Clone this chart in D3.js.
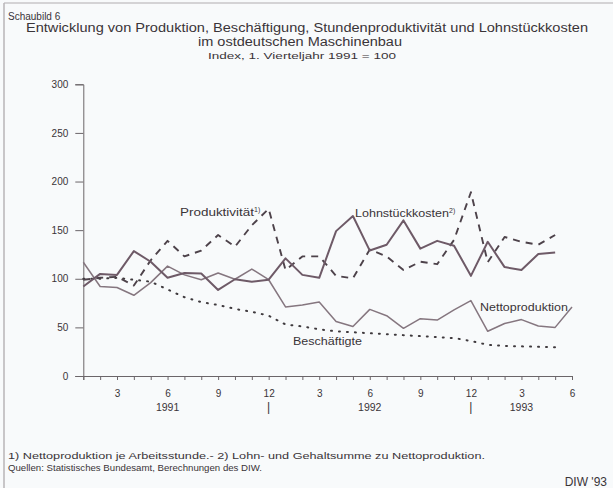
<!DOCTYPE html>
<html>
<head>
<meta charset="utf-8">
<script src="https://cdn.jsdelivr.net/npm/d3@7/dist/d3.min.js"></script>
<style>
  body { margin: 0; background: #f8fafb; }
  svg { display: block; font-family: "Liberation Sans", Arial, sans-serif; }
  text { fill: #3a3438; }
</style>
</head>
<body>
<div id="chart"></div>
<script>
// monthly values, Jan 1991 .. Jun 1993 (index, Q1 1991 = 100)
const months = [1, 2, 3, 4, 5, 6, 7, 8, 9, 10, 11, 12, 13, 14, 15, 16, 17, 18, 19, 20, 21, 22, 23, 24, 25, 26, 27, 28, 29, 30];
const nettoproduktion = [117, 92, 91, 83, 96, 113, 104, 99, 106, 99.5, 110, 99, 71, 73, 76, 56, 51, 68.5, 62, 49, 59, 57.5, 68, 77.5, 46, 54, 58, 51.5, 50, 71];
const lohnstueckkosten = [92, 105, 104, 128.5, 117.5, 101, 106, 105.5, 88.5, 99.5, 97, 99, 121, 104, 101, 149, 164.5, 129, 135, 160, 131, 139, 134, 103, 138, 112, 109, 125.5, 127];
const produktivitaet = [99, 101, 102, 93, 119, 139, 123, 129, 145, 133, 155, 172, 109, 123, 123, 103, 100.5, 130, 123, 109, 117.5, 115, 140, 189, 117, 143, 138, 135, 145];
const beschaeftigte = [100, 100, 101, 99, 97, 89, 81, 76, 73, 69, 66, 62, 53, 51, 48, 46, 45, 44, 43, 42, 41, 40, 39, 36, 32, 31, 30.5, 30, 29.5];

const yTicks = [0, 50, 100, 150, 200, 250, 300];
const monthLabels = {3: "3", 6: "6", 9: "9", 12: "12", 15: "3", 18: "6", 21: "9", 24: "12", 27: "3", 30: "6"};
const years = [["1991", 6], ["|", 12], ["1992", 18], ["|", 24], ["1993", 27]];

const W = 613, H = 488;
const svg = d3.select("#chart").append("svg")
    .attr("width", W)
    .attr("height", H);

// scanned frame edges
svg.append("line").attr("x1", 4).attr("x2", W).attr("y1", 3).attr("y2", 3)
    .style("stroke", "#c9c6c8").style("stroke-width", 1.5);
svg.append("line").attr("x1", 4).attr("x2", 4).attr("y1", 3).attr("y2", H)
    .style("stroke", "#b8b4b7").style("stroke-width", 1.5);

// titles
svg.append("text").attr("x", 8).attr("y", 20)
    .style("font-size", "10px").text("Schaubild 6");
svg.append("text").attr("x", 307).attr("y", 32).attr("text-anchor", "middle")
    .attr("textLength", 562).attr("lengthAdjust", "spacingAndGlyphs")
    .style("font-size", "12.5px").text("Entwicklung von Produktion, Beschäftigung, Stundenproduktivität und Lohnstückkosten");
svg.append("text").attr("x", 300).attr("y", 46).attr("text-anchor", "middle")
    .attr("textLength", 204).attr("lengthAdjust", "spacingAndGlyphs")
    .style("font-size", "12.5px").text("im ostdeutschen Maschinenbau");
svg.append("text").attr("x", 302).attr("y", 59).attr("text-anchor", "middle")
    .attr("textLength", 188).attr("lengthAdjust", "spacingAndGlyphs")
    .style("font-size", "9.5px").text("Index, 1. Vierteljahr 1991 = 100");

const x = d3.scaleLinear().domain([1, 30]).range([83.3, 572]);
const y = d3.scaleLinear().domain([0, 300]).range([376, 84.3]);

const axisColor = "#6b6569";

// y axis
const yAxis = svg.append("g").attr("transform", `translate(${x(1)},0)`)
    .call(d3.axisLeft(y).tickValues(yTicks).tickSize(8).tickPadding(7));
yAxis.select(".domain").style("stroke", axisColor);
yAxis.selectAll(".tick line").style("stroke", axisColor);
yAxis.selectAll(".tick text").style("font-size", "10px").style("fill", "#3a3438")
    .style("font-family", "Liberation Sans, Arial, sans-serif");

// x axis
const xAxis = svg.append("g").attr("transform", `translate(0,${y(0)})`)
    .call(d3.axisBottom(x).tickValues(months).tickSize(4).tickPadding(10)
        .tickFormat(m => monthLabels[m] || ""));
xAxis.select(".domain").style("stroke", axisColor);
xAxis.selectAll(".tick line").style("stroke", axisColor);
xAxis.selectAll(".tick text").style("font-size", "10px").style("fill", "#3a3438")
    .style("font-family", "Liberation Sans, Arial, sans-serif");

svg.selectAll(".year").data(years).enter().append("text")
    .attr("class", "year")
    .attr("x", d => x(d[1]))
    .attr("y", 411)
    .attr("text-anchor", "middle")
    .style("font-size", d => d[0] === "|" ? "12px" : "10.5px")
    .text(d => d[0]);

// lines
const line = d3.line().x((d, i) => x(months[i])).y(d => y(d));

function drawSeries(values, color, width, dash) {
    svg.append("path").datum(values)
        .attr("d", line)
        .style("fill", "none")
        .style("stroke", color)
        .style("stroke-width", width)
        .style("stroke-linejoin", "round")
        .style("stroke-linecap", dash === "1,7" ? "round" : "butt")
        .style("stroke-dasharray", dash);
}

drawSeries(beschaeftigte, "#3f3a3e", 2, "1,7");
drawSeries(nettoproduktion, "#85767f", 1.5, null);
drawSeries(produktivitaet, "#4d424a", 1.9, "7,6");
drawSeries(lohnstueckkosten, "#6e5a67", 2, null);

// series labels
function label(txt, sup, lx, ly, len) {
    const t = svg.append("text").attr("x", lx).attr("y", ly).style("font-size", "11px");
    t.append("tspan").attr("textLength", len).attr("lengthAdjust", "spacingAndGlyphs").text(txt);
    if (sup) {
        t.append("tspan").attr("dy", -4).style("font-size", "7px").text(sup);
    }
}
label("Produktivität", "1)", 180, 216, 74);
label("Lohnstückkosten", "2)", 355, 217, 94);
label("Nettoproduktion", null, 480, 311, 88);
label("Beschäftigte", null, 293, 345, 69);

// footnotes
svg.append("text").attr("x", 8).attr("y", 459).style("font-size", "9px")
    .attr("textLength", 477).attr("lengthAdjust", "spacingAndGlyphs")
    .text("1) Nettoproduktion je Arbeitsstunde.- 2) Lohn- und Gehaltsumme zu Nettoproduktion.");
svg.append("text").attr("x", 8).attr("y", 471).style("font-size", "9px")
    .attr("textLength", 254).attr("lengthAdjust", "spacingAndGlyphs")
    .text("Quellen: Statistisches Bundesamt,  Berechnungen des DIW.");
svg.append("text").attr("x", 607).attr("y", 486).attr("text-anchor", "end")
    .style("font-size", "12px").text("DIW '93");
</script>
</body>
</html>
